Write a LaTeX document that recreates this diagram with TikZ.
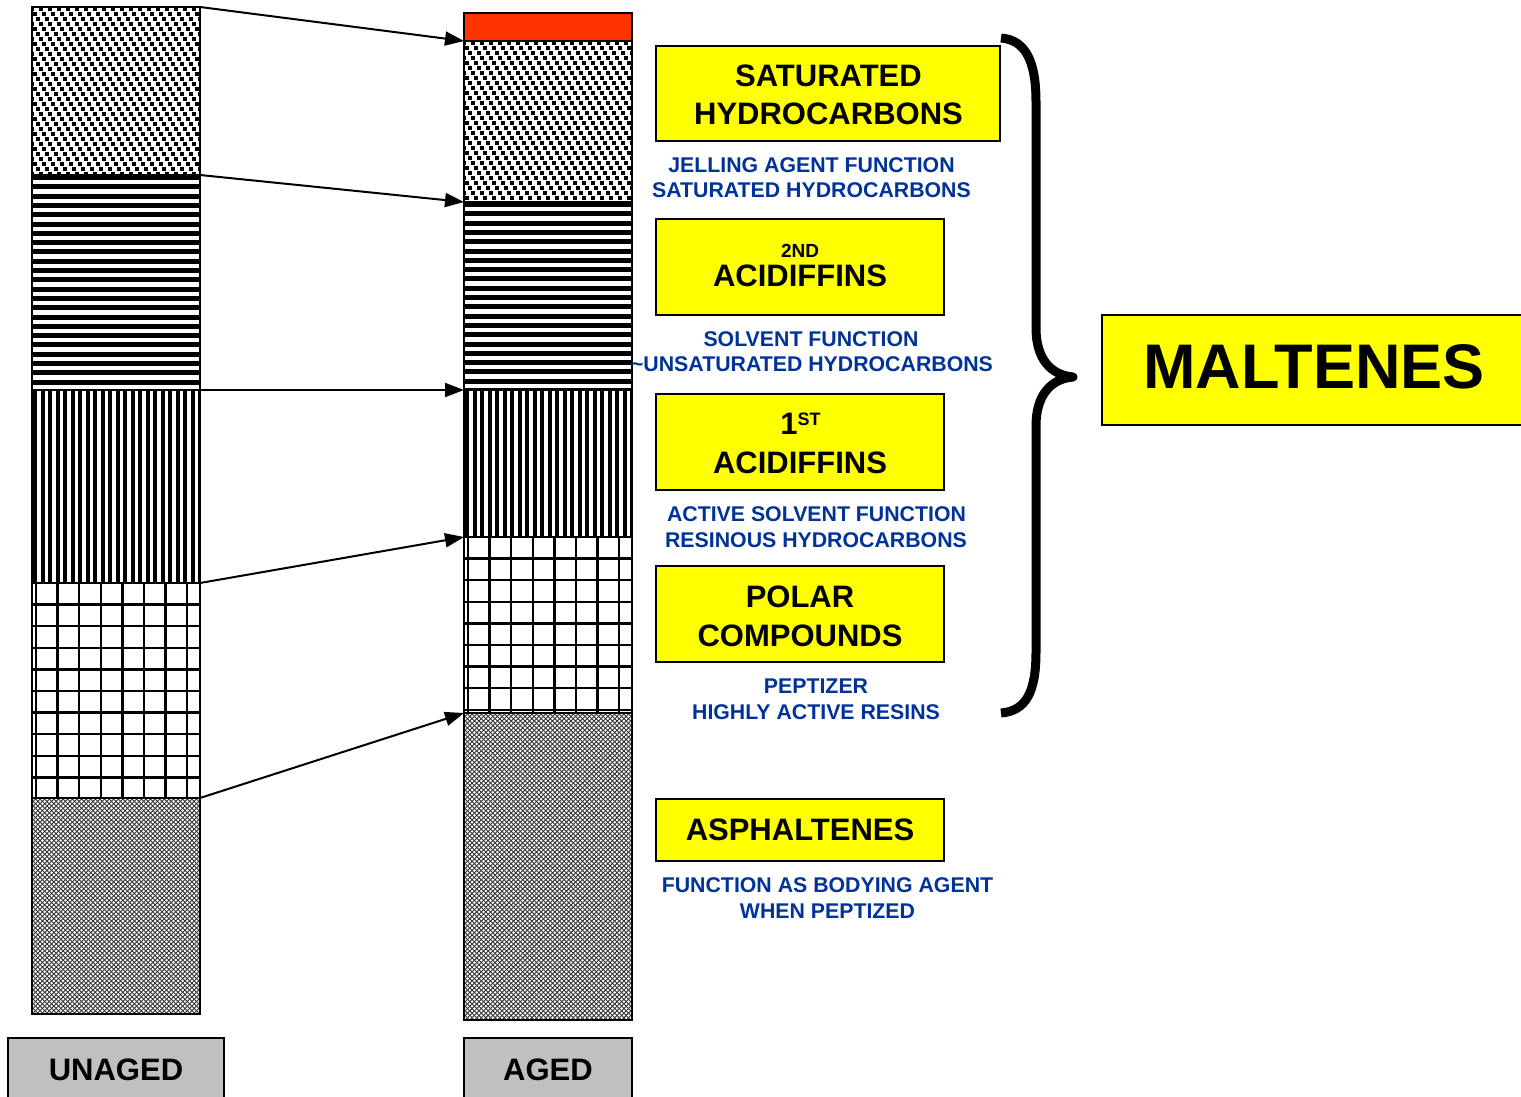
\documentclass[tikz,border=0pt]{standalone}
\usepackage{fontspec}
\setmainfont{Liberation Sans}
\usetikzlibrary{arrows.meta}
\definecolor{ylw}{RGB}{255,255,0}
\definecolor{rd}{RGB}{255,51,0}
\definecolor{blu}{RGB}{0,51,153}
\definecolor{gry}{RGB}{192,192,192}
\newcommand{\fsz}[1]{\fontsize{#1}{#1}\selectfont\bfseries}
% dotted pattern
\newcommand{\dotpat}[4]{\begin{scope}\clip (#1,#2) rectangle (#3,#4);
 \pgfmathtruncatemacro\nr{(#4-#2)/5+1}
 \pgfmathtruncatemacro\nc{(#3-#1)/9+1}
 \foreach \j in {0,...,\nr}{\foreach \i in {-1,...,\nc}{
   \fill ({#1+\i*9+mod(\j,3)*3-2},{#2+2+\j*5-2}) rectangle ++(4,4);}}
 \end{scope}}
% horizontal lines
\newcommand{\hpat}[4]{\begin{scope}\clip (#1,#2) rectangle (#3,#4);
 \pgfmathtruncatemacro\nr{(#4-#2)/9.3+1}
 \foreach \j in {0,...,\nr}{\fill ({#1},{#2+\j*9.3}) rectangle ({#3},{#2+\j*9.3+5});}
 \end{scope}}
% vertical lines
\newcommand{\vpat}[4]{\begin{scope}\clip (#1,#2) rectangle (#3,#4);
 \pgfmathtruncatemacro\nc{(#3-#1)/7.5+1}
 \foreach \i in {0,...,\nc}{\fill ({#1+1+\i*7.5},{#2}) rectangle ({#1+1+\i*7.5+4},{#4});}
 \end{scope}}
% grid
\newcommand{\gpat}[4]{\begin{scope}\clip (#1,#2) rectangle (#3,#4);
 \pgfmathtruncatemacro\nc{(#3-#1)/21.6+1}
 \pgfmathtruncatemacro\nr{(#4-#2)/21.6+1}
 \foreach \i in {0,...,\nc}{\draw[line width=2.4] ({#1+4+\i*21.6},{#2}) -- ({#1+4+\i*21.6},{#4});}
 \foreach \j in {0,...,\nr}{\draw[line width=2.4] ({#1},{#2+\j*21.6}) -- ({#3},{#2+\j*21.6});}
 \end{scope}}
% crosshatch
\newcommand{\xpat}[4]{\begin{scope}\clip (#1,#2) rectangle (#3,#4);
 \pgfmathtruncatemacro\nn{((#3-#1)+(#4-#2))/4.6+2}
 \foreach \k in {0,...,\nn}{
   \draw[line width=0.9,black!80] ({#1+\k*4.6},{#2}) -- ++({-(#4-#2)-(#3-#1)},{(#4-#2)+(#3-#1)});
   \draw[line width=0.9,black!80] ({#3-\k*4.6},{#2}) -- ++({(#4-#2)+(#3-#1)},{(#4-#2)+(#3-#1)});}
 \end{scope}}
\begin{document}
\begin{tikzpicture}[x=1pt,y=-1pt,
  seg/.style={draw=black,line width=2,inner sep=0,outer sep=0,minimum width=168},
  ybox/.style={draw=black,fill=ylw,line width=2,inner sep=0,outer sep=0},
  gbox/.style={draw=black,fill=gry,line width=2,inner sep=0,outer sep=0},
  btxt/.style={anchor=base,inner sep=0,font=\fsz{31},text=black},
  ltxt/.style={anchor=base,inner sep=0,font=\fsz{21.3},text=blu},
  conn/.style={line width=2,-{Triangle[length=19,width=14]}}]
\useasboundingbox (0,0) rectangle (1521,1097);
\clip (0,0) rectangle (1521,1097);
\fill[white] (0,0) rectangle (1521,1097);
% patterns unaged
\dotpat{32}{7}{200}{175}
\hpat{32}{175}{200}{390}
\vpat{32}{390}{200}{583}
\gpat{32}{583}{200}{798}
\xpat{32}{798}{200}{1014}
% patterns aged
\dotpat{464}{41}{632}{202}
\hpat{464}{202}{632}{390}
\vpat{464}{390}{632}{537}
\gpat{464}{537}{632}{713}
\xpat{464}{713}{632}{1020}
% column segments
\node[seg,minimum height=168] (u1) at (116,91) {};
\node[seg,minimum height=215] (u2) at (116,282.5) {};
\node[seg,minimum height=193] (u3) at (116,486.5) {};
\node[seg,minimum height=215] (u4) at (116,690.5) {};
\node[seg,minimum height=216] (u5) at (116,906) {};
\node[seg,fill=rd,minimum height=28] (a0) at (548,27) {};
\node[seg,minimum height=161] (a1) at (548,121.5) {};
\node[seg,minimum height=188] (a2) at (548,296) {};
\node[seg,minimum height=147] (a3) at (548,463.5) {};
\node[seg,minimum height=176] (a4) at (548,625) {};
\node[seg,minimum height=307] (a5) at (548,866.5) {};
% connectors
\draw[conn] (u1.north east) -- (a1.north west);
\draw[conn] (u2.north east) -- (a2.north west);
\draw[conn] (u3.north east) -- (a3.north west);
\draw[conn] (u4.north east) -- (a4.north west);
\draw[conn] (u5.north east) -- (a5.north west);
% labels under columns
\node[gbox,minimum width=216,minimum height=80] (unaged) at (116,1078) {};
\node[gbox,minimum width=168,minimum height=80] (aged) at (548,1078) {};
\node[btxt] (tun) at (116,1080) {UNAGED};
\node[btxt] (tag) at (548,1080) {AGED};
% yellow boxes
\node[ybox,minimum width=344,minimum height=95] (sat) at (828,93.5) {};
\node[btxt] (sat1) at (828.5,87) {SATURATED};
\node[btxt] (sat2) at (828.5,125) {HYDROCARBONS};
\node[ybox,minimum width=288,minimum height=96] (ac2) at (800,267) {};
\node[btxt,font=\fsz{19}] (ac2a) at (800,257) {2ND};
\node[btxt] (ac2b) at (800,286) {ACIDIFFINS};
\node[ybox,minimum width=288,minimum height=96] (ac1) at (800,442) {};
\node[btxt] (ac1a) at (800.5,434) {1\raisebox{9pt}{\fsz{18}ST}};
\node[btxt] (ac1b) at (800,473) {ACIDIFFINS};
\node[ybox,minimum width=288,minimum height=96] (pol) at (800,614) {};
\node[btxt] (pol1) at (800,607) {POLAR};
\node[btxt] (pol2) at (800,646) {COMPOUNDS};
\node[ybox,minimum width=288,minimum height=62] (asp) at (800,830) {};
\node[btxt] (asp1) at (800,840) {ASPHALTENES};
\node[ybox,minimum width=440,minimum height=110] (mal) at (1322,370) {};
\node[btxt,font=\fsz{63}] (mal1) at (1314,388) {MALTENES};
% blue descriptions
\node[ltxt] (d1a) at (811.5,172) {JELLING AGENT FUNCTION};
\node[ltxt] (d1b) at (811.5,197) {SATURATED HYDROCARBONS};
\node[ltxt] (d2a) at (811,346) {SOLVENT FUNCTION};
\node[ltxt] (d2b) at (812,371) {\textasciitilde UNSATURATED HYDROCARBONS};
\node[ltxt] (d3a) at (816.5,521) {ACTIVE SOLVENT FUNCTION};
\node[ltxt] (d3b) at (816,547) {RESINOUS HYDROCARBONS};
\node[ltxt] (d4a) at (816,693) {PEPTIZER};
\node[ltxt] (d4b) at (816,719) {HIGHLY ACTIVE RESINS};
\node[ltxt] (d5a) at (827.5,892) {FUNCTION AS BODYING AGENT};
\node[ltxt] (d5b) at (827.5,918) {WHEN PEPTIZED};
% brace
\draw[line width=9,line join=round]
  (1001,38) .. controls (1026,40) and (1036,62) .. (1036,102) -- (1036,328)
  .. controls (1036,358) and (1050,375) .. (1073,377)
  .. controls (1050,379) and (1036,396) .. (1036,426) -- (1036,652)
  .. controls (1036,692) and (1026,711) .. (1001,713);
\end{tikzpicture}
\end{document}
